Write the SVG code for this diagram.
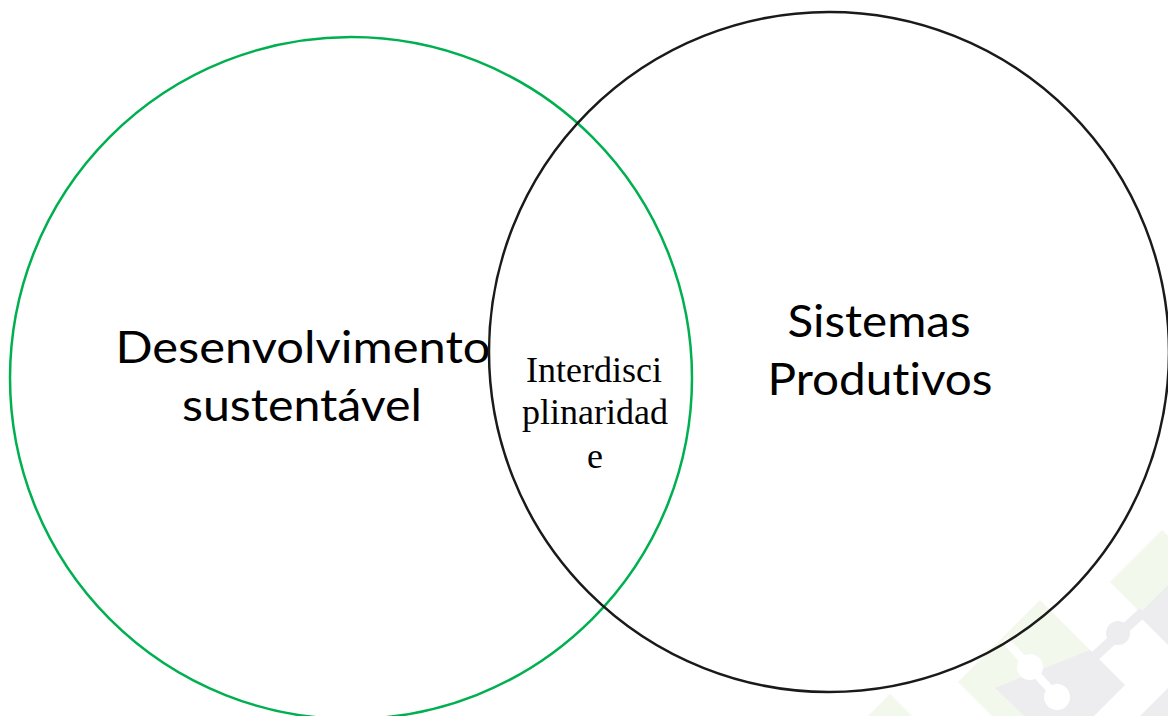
<svg xmlns="http://www.w3.org/2000/svg" width="1168" height="716" viewBox="0 0 1168 716">
  <style>
    .bgG { fill: #f2f8ec; }
    .bgK { fill: #ededf0; }
    .cut { fill: #ffffff; }
    .ring { fill: none; }
    .sans { font-family: Lato, "Open Sans", "Liberation Sans", sans-serif; font-size: 45px; fill: #000; text-anchor: middle; font-variant-ligatures: none; font-feature-settings: "liga" 0, "clig" 0; }
    .serif { font-family: "Liberation Serif", "DejaVu Serif", serif; font-size: 36px; fill: #000; text-anchor: middle; }
  </style>
  <rect width="1168" height="716" fill="#ffffff"/>
  <g id="decor">
    <polygon class="bgG" points="1110,582 1162,530 1214,582 1162,634"/>
    <polygon class="bgK" points="1138,615 1190,563 1242,615 1190,667"/>
    <polygon class="bgG" points="958,682 1040,600 1100,660 1018,742"/>
    <polygon class="bgK" points="995,688 1090,650 1125,685 1060,750"/>
    <polygon class="bgK" points="1140,716 1168,688 1168,716"/>
    <polygon class="bgG" points="868,716 890,694 912,716"/>
    <line x1="1095" y1="656" x2="1143" y2="612" stroke="#ededf0" stroke-width="10"/>
    <circle cx="1118" cy="633" r="12" fill="#ededf0"/>
    <line x1="1005" y1="640" x2="1030" y2="667" stroke="#ffffff" stroke-width="8"/>
    <line x1="1030" y1="667" x2="1057" y2="697" stroke="#ffffff" stroke-width="8"/>
    <circle class="cut" cx="1030" cy="667" r="13"/>
    <circle class="cut" cx="1057" cy="697" r="13"/>
  </g>
  <g id="connectors"></g>
  <g id="desenvolvimento">
    <circle class="ring" cx="351" cy="378" r="341" stroke="#00b050" stroke-width="2.5"/>
    <text class="sans" x="303" y="363" textLength="375" lengthAdjust="spacingAndGlyphs">Desenvolvimento</text>
    <text class="sans" x="302" y="421" textLength="240" lengthAdjust="spacingAndGlyphs">sustentável</text>
  </g>
  <g id="sistemas">
    <circle class="ring" cx="829" cy="352" r="340" stroke="#1a1a1a" stroke-width="2.5"/>
    <text class="sans" x="879" y="337" textLength="183" lengthAdjust="spacingAndGlyphs">Sistemas</text>
    <text class="sans" x="880" y="395" textLength="225" lengthAdjust="spacingAndGlyphs">Produtivos</text>
  </g>
  <g id="interdisciplinaridade">
    <text class="serif" x="594" y="382">Interdisci</text>
    <text class="serif" x="595" y="424">plinaridad</text>
    <text class="serif" x="595" y="468">e</text>
  </g>
</svg>
